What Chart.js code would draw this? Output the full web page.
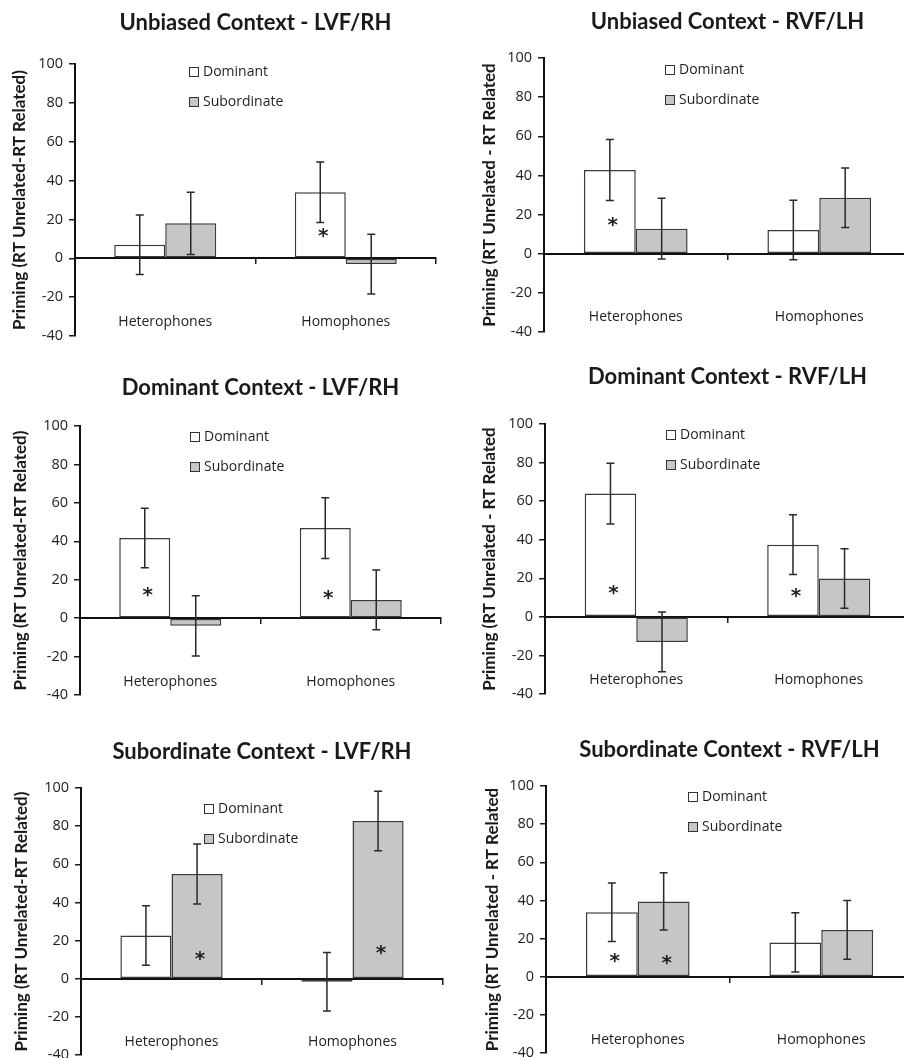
<!DOCTYPE html>
<html>
<head>
<meta charset="utf-8">
<title>Priming by context and visual field</title>
<script src="https://cdn.jsdelivr.net/npm/chart.js@4.4.1/dist/chart.umd.min.js"></script>
<style>
  html, body { margin: 0; padding: 0; background: #fff; overflow: hidden; }
  body { width: 904px; height: 1058px; position: relative; }
  canvas { position: absolute; }
</style>
</head>
<body>
<canvas id="c0"></canvas>
<canvas id="c1"></canvas>
<canvas id="c2"></canvas>
<canvas id="c3"></canvas>
<canvas id="c4"></canvas>
<canvas id="c5"></canvas>
<script>
// data (priming in ms, +/- error)
const categories = ['Heterophones', 'Homophones'];
const seriesNames = ['Dominant', 'Subordinate'];
const yTickValues = [-40, -20, 0, 20, 40, 60, 80, 100];

const panelTitles = [
    'Unbiased Context - LVF/RH',
    'Unbiased Context - RVF/LH',
    'Dominant Context - LVF/RH',
    'Dominant Context - RVF/LH',
    'Subordinate Context - LVF/RH',
    'Subordinate Context - RVF/LH'
];
const yAxisTitles = [
    'Priming (RT Unrelated-RT Related)',
    'Priming (RT Unrelated - RT Related',
    'Priming (RT Unrelated-RT Related)',
    'Priming (RT Unrelated - RT Related',
    'Priming (RT Unrelated-RT Related)',
    'Priming (RT Unrelated - RT Related'
];

const dominantValues    = [[7, 34], [42.8, 12.1], [41.7, 46.9], [63.9, 37.4], [22.7, -1.6], [33.8, 18]];
const subordinateValues = [[18, -3], [12.8, 28.6], [-4, 9.5], [-13, 19.9], [54.9, 82.7], [39.5, 24.5]];
const dominantErrors    = [[15.3, 15.6], [15.6, 15.2], [15.5, 15.8], [15.7, 15.5], [15.6, 15.3], [15.4, 15.5]];
const subordinateErrors = [[16, 15.4], [15.5, 15.2], [15.7, 15.6], [15.5, 15.4], [15.7, 15.6], [15, 15.4]];
// where the significance asterisks sit (null = none)
const dominantStars     = [[null, 13], [16.4, null], [13.5, 12.1], [13.9, 12.5], [null, null], [9.6, null]];
const subordinateStars  = [[null, null], [null, null], [null, null], [null, null], [11.7, 14.8], [8.7, null]];

// page layout of each panel (pixels)
const layouts = [
    {cx: 0,   cy: 0,   cw: 452, ch: 352, L: 75,  T: 64,  R: 436, B: 336,  titleY: 23,  yTitleX: 20,  legX: 114, legY: 8},
    {cx: 452, cy: 0,   cw: 470, ch: 352, L: 544, T: 58,  R: 911, B: 332,  titleY: 22,  yTitleX: 490, legX: 121, legY: 12},
    {cx: 0,   cy: 340, cw: 452, ch: 372, L: 80,  T: 426, R: 441, B: 695,  titleY: 388, yTitleX: 21,  legX: 110, legY: 11},
    {cx: 452, cy: 340, cw: 470, ch: 372, L: 545, T: 424, R: 910, B: 694,  titleY: 377, yTitleX: 490, legX: 121, legY: 11},
    {cx: 0,   cy: 700, cw: 452, ch: 372, L: 81,  T: 788, R: 443, B: 1055, titleY: 752, yTitleX: 22,  legX: 123, legY: 21},
    {cx: 452, cy: 700, cw: 470, ch: 372, L: 546, T: 786, R: 913, B: 1053, titleY: 750, yTitleX: 493, legX: 142, legY: 11}
];

const ink = '#1f1f1f';
const fills = ['#ffffff', '#c5c6c7'];

// error bars + asterisks on top of the bars
const barExtras = {
    id: 'barExtras',
    afterDatasetsDraw(chart) {
        const ctx = chart.ctx;
        const y = chart.scales.y;
        chart.data.datasets.forEach((ds, d) => {
            const meta = chart.getDatasetMeta(d);
            meta.data.forEach((bar, i) => {
                const v = ds.data[i], e = ds.errors[i];
                const y1 = y.getPixelForValue(v + e);
                const y2 = y.getPixelForValue(v - e);
                ctx.save();
                ctx.strokeStyle = '#2a2a2a';
                ctx.lineWidth = 1.5;
                ctx.beginPath();
                ctx.moveTo(bar.x, y1); ctx.lineTo(bar.x, y2);
                ctx.moveTo(bar.x - 4, y1); ctx.lineTo(bar.x + 4, y1);
                ctx.moveTo(bar.x - 4, y2); ctx.lineTo(bar.x + 4, y2);
                ctx.stroke();
                const s = ds.stars[i];
                if (s !== null) {
                    ctx.font = 'bold 20px "DejaVu Sans"';
                    ctx.fillStyle = ink;
                    ctx.textAlign = 'center';
                    ctx.textBaseline = 'alphabetic';
                    const m = ctx.measureText('*');
                    const mid = (m.actualBoundingBoxAscent - m.actualBoundingBoxDescent) / 2;
                    ctx.fillText('*', bar.x + 3, y.getPixelForValue(s) + mid);
                }
                ctx.restore();
            });
        });
    }
};

// legend drawn inside the plot, stacked
const innerLegend = {
    id: 'innerLegend',
    afterDraw(chart, args, opts) {
        const ctx = chart.ctx;
        const a = chart.chartArea;
        ctx.save();
        ctx.font = '14px "Open Sans"';
        ctx.textBaseline = 'middle';
        ctx.textAlign = 'left';
        chart.data.datasets.forEach((ds, d) => {
            const x = a.left + opts.x;
            const yy = a.top + opts.y + d * 30;
            ctx.fillStyle = ds.backgroundColor;
            ctx.fillRect(x, yy - 5, 10, 10);
            ctx.strokeStyle = '#333';
            ctx.lineWidth = 1;
            ctx.strokeRect(x + 0.5, yy - 4.5, 9, 9);
            ctx.fillStyle = ink;
            ctx.fillText(ds.label, x + 14, yy);
        });
        ctx.restore();
    }
};

layouts.forEach((lay, p) => {
    const canvas = document.getElementById('c' + p);
    canvas.width = lay.cw;
    canvas.height = lay.ch;
    canvas.style.left = lay.cx + 'px';
    canvas.style.top = lay.cy + 'px';
    canvas.style.width = lay.cw + 'px';
    canvas.style.height = lay.ch + 'px';

    const titleSize = 22;
    const titleLine = titleSize * 1.2;
    const titlePadTop = lay.titleY - lay.cy - titleLine / 2;
    const titlePadBottom = lay.T - lay.cy - titlePadTop - titleLine;
    const yTitleSize = 17;
    const yTitleLine = yTitleSize * 1.2;

    new Chart(canvas, {
        type: 'bar',
        data: {
            labels: categories,
            datasets: [
                {
                    label: seriesNames[0],
                    data: dominantValues[p],
                    errors: dominantErrors[p],
                    stars: dominantStars[p],
                    backgroundColor: fills[0],
                    borderColor: '#3a3a3a',
                    borderWidth: 1.5,
                    borderSkipped: false
                },
                {
                    label: seriesNames[1],
                    data: subordinateValues[p],
                    errors: subordinateErrors[p],
                    stars: subordinateStars[p],
                    backgroundColor: fills[1],
                    borderColor: '#3a3a3a',
                    borderWidth: 1.5,
                    borderSkipped: false
                }
            ]
        },
        options: {
            responsive: false,
            animation: false,
            devicePixelRatio: 1,
            events: [],
            categoryPercentage: 0.565,
            barPercentage: 1.0,
            layout: {
                padding: {
                    left: 0,
                    top: 0,
                    right: lay.cx + lay.cw - lay.R,
                    bottom: lay.cy + lay.ch - lay.B
                }
            },
            plugins: {
                legend: { display: false },
                tooltip: { enabled: false },
                title: {
                    display: true,
                    text: panelTitles[p],
                    fullSize: false,
                    color: '#1a1a1a',
                    font: { family: 'Lato', weight: 'bold', size: titleSize, lineHeight: 1.2 },
                    padding: { top: titlePadTop, bottom: titlePadBottom }
                },
                innerLegend: { x: lay.legX, y: lay.legY }
            },
            scales: {
                x: {
                    position: { y: 0 },
                    offset: true,
                    z: 1,
                    grid: {
                        offset: true,
                        drawOnChartArea: false,
                        drawTicks: true,
                        tickLength: 5,
                        color: '#1a1a1a',
                        lineWidth: 1.5
                    },
                    border: { display: true, color: '#111', width: 2 },
                    ticks: {
                        padding: 50,
                        color: '#222',
                        font: { family: 'Open Sans', size: 14, lineHeight: 1.2 }
                    }
                },
                y: {
                    min: yTickValues[0],
                    max: yTickValues[yTickValues.length - 1],
                    afterFit: (scale) => { scale.width = lay.L - lay.cx; },
                    afterBuildTicks: (scale) => { scale.ticks = yTickValues.map(v => ({ value: v })); },
                    grid: {
                        drawOnChartArea: false,
                        drawTicks: true,
                        tickLength: 6,
                        color: '#1a1a1a',
                        lineWidth: 1.5
                    },
                    border: { display: true, color: '#111', width: 2 },
                    ticks: {
                        padding: 6,
                        color: '#222',
                        font: { family: 'Open Sans', size: 14.5 }
                    },
                    title: {
                        display: true,
                        text: yAxisTitles[p],
                        color: '#1a1a1a',
                        font: { family: 'Lato', weight: 'bold', size: yTitleSize, lineHeight: 1.2 },
                        padding: { top: lay.yTitleX - lay.cx - yTitleLine / 2, bottom: 0 }
                    }
                }
            }
        },
        plugins: [barExtras, innerLegend]
    });
});
</script>
</body>
</html>
